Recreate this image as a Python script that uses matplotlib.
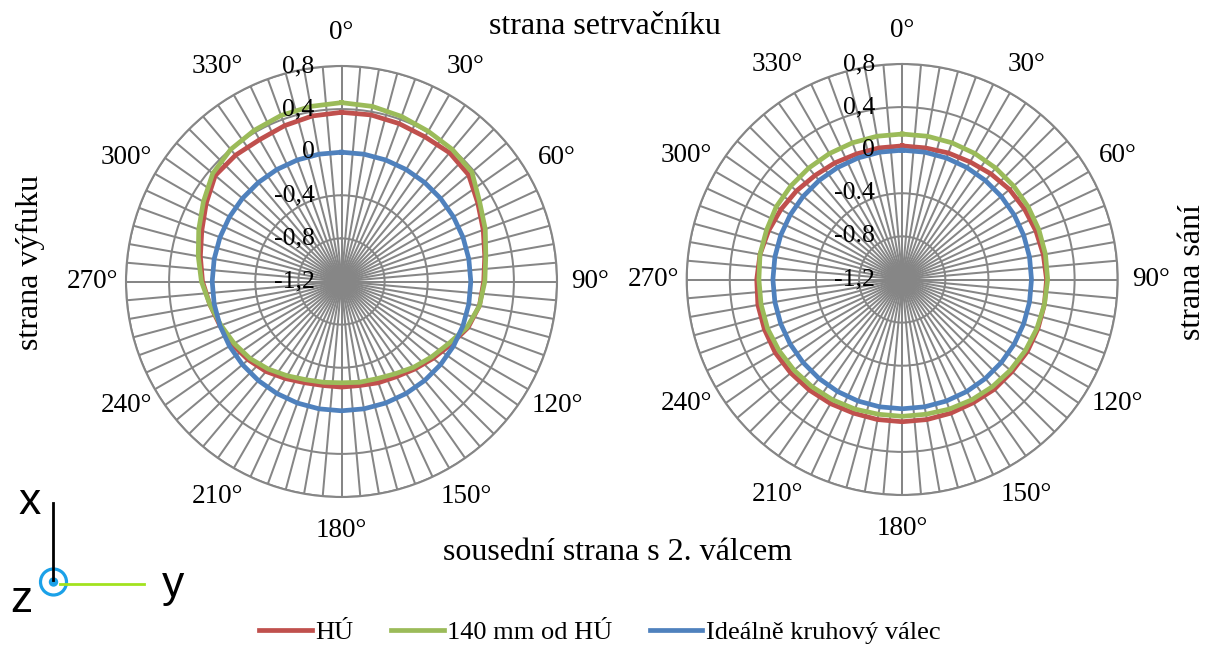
import numpy as np
import matplotlib
matplotlib.use("Agg")
import matplotlib.pyplot as plt
from matplotlib.transforms import offset_copy
from matplotlib.patches import Circle
from matplotlib.lines import Line2D

plt.rcParams['font.family'] = ['Liberation Serif', 'DejaVu Serif']

# ---------------- data ----------------
angles_deg = [0, 10, 20, 30, 40, 50, 60, 70, 80, 90, 100, 110,
              120, 130, 140, 150, 160, 170, 180, 190, 200, 210, 220, 230,
              240, 250, 260, 270, 280, 290, 300, 310, 320, 330, 340, 350]

series_names = ["HÚ", "140 mm od HÚ", "Ideálně kruhový válec"]
series_colors = ["#C0504D", "#9BBB59", "#4F81BD"]

left_hu = [0.37, 0.37, 0.36, 0.35, 0.36, 0.34, 0.26, 0.20, 0.15, 0.12, 0.10, 0.05,
           -0.03, -0.09, -0.14, -0.18, -0.20, -0.22, -0.22, -0.22, -0.20, -0.16, -0.11, -0.07,
           -0.03, 0.00, 0.04, 0.09, 0.13, 0.18, 0.25, 0.33, 0.33, 0.32, 0.34, 0.36]
left_140 = [0.46, 0.45, 0.43, 0.41, 0.40, 0.38, 0.28, 0.22, 0.16, 0.13, 0.10, 0.04,
            -0.05, -0.11, -0.16, -0.21, -0.24, -0.25, -0.26, -0.25, -0.23, -0.19, -0.14, -0.09,
            -0.05, -0.01, 0.04, 0.10, 0.15, 0.21, 0.28, 0.36, 0.40, 0.42, 0.44, 0.45]
left_ideal = [0.0, 0.0, 0.0, 0.0, 0.0, 0.0, 0.0, 0.0, 0.0, 0.0, 0.0, 0.0,
              0.0, 0.0, 0.0, 0.0, 0.0, 0.0, 0.0, 0.0, 0.0, 0.0, 0.0, 0.0,
              0.0, 0.0, 0.0, 0.0, 0.0, 0.0, 0.0, 0.0, 0.0, 0.0, 0.0, 0.0]

right_hu = [0.04, 0.04, 0.05, 0.06, 0.08, 0.10, 0.11, 0.12, 0.13, 0.14, 0.14, 0.14,
            0.14, 0.13, 0.13, 0.12, 0.12, 0.12, 0.12, 0.12, 0.12, 0.13, 0.14, 0.15,
            0.16, 0.16, 0.16, 0.15, 0.14, 0.12, 0.10, 0.08, 0.06, 0.05, 0.04, 0.04]
right_140 = [0.15, 0.15, 0.15, 0.15, 0.15, 0.15, 0.15, 0.15, 0.15, 0.15, 0.14, 0.13,
             0.12, 0.11, 0.10, 0.09, 0.08, 0.07, 0.07, 0.07, 0.08, 0.09, 0.10, 0.11,
             0.12, 0.13, 0.13, 0.13, 0.14, 0.14, 0.15, 0.15, 0.15, 0.15, 0.15, 0.15]
right_ideal = [0.0, 0.0, 0.0, 0.0, 0.0, 0.0, 0.0, 0.0, 0.0, 0.0, 0.0, 0.0,
               0.0, 0.0, 0.0, 0.0, 0.0, 0.0, 0.0, 0.0, 0.0, 0.0, 0.0, 0.0,
               0.0, 0.0, 0.0, 0.0, 0.0, 0.0, 0.0, 0.0, 0.0, 0.0, 0.0, 0.0]

r_ticks = [-1.2, -0.8, -0.4, 0.0, 0.4, 0.8]
left_r_labels = ["-1,2", "-0,8", "-0,4", "0", "0,4", "0,8"]
right_r_labels = ["-1,2", "-0.8", "-0.4", "0", "0,4", "0,8"]

theta_grid_step = 5
theta_label_text = {0: "0°", 30: "30°", 60: "60°", 90: "90°", 120: "120°", 150: "150°",
                    180: "180°", 210: "210°", 240: "240°", 270: "270°", 300: "300°", 330: "330°"}

# ---------------- figure ----------------
W, H = 1205, 645
fig = plt.figure(figsize=(W / 100, H / 100), dpi=100)
fig.patch.set_facecolor("white")

GRID = "#868686"
R_PX = 215.5


def polar_axes(cx, cy):
    rect = [(cx - R_PX) / W, (H - cy - R_PX) / H, 2 * R_PX / W, 2 * R_PX / H]
    return fig.add_axes(rect, projection="polar")


def draw(ax, series, rlabels):
    ax.set_theta_zero_location("N")
    ax.set_theta_direction(-1)
    ax.set_ylim(r_ticks[0], r_ticks[-1])
    ax.set_yticks(r_ticks)
    ax.set_yticklabels([])
    tdeg = np.arange(0, 360, theta_grid_step)
    ax.set_xticks(np.deg2rad(tdeg))
    ax.set_xticklabels([theta_label_text.get(int(d), "") for d in tdeg])
    ax.grid(True, color=GRID, lw=1.45)
    ax.spines["polar"].set_color(GRID)
    ax.spines["polar"].set_linewidth(1.5)
    ax.tick_params(axis="x", length=0, pad=17, labelsize=19.5)
    ax.tick_params(axis="y", length=0)
    th = np.deg2rad(angles_deg + [360])
    for vals, col in zip(series, series_colors):
        ax.plot(th, list(vals) + [vals[0]], color=col, lw=3.4,
                solid_joinstyle="round", zorder=3)
    tr = offset_copy(ax.transData, fig=fig, x=-27, y=0, units="dots")
    for r, lab in zip(r_ticks, rlabels):
        ax.text(0, r, lab, transform=tr, ha="right", va="center",
                fontsize=18.5, zorder=4)


axL = polar_axes(341.5, 281.5)
draw(axL, [left_hu, left_140, left_ideal], left_r_labels)
axR = polar_axes(902.2, 279.5)
draw(axR, [right_hu, right_140, right_ideal], right_r_labels)

# ---------------- titles ----------------
fig.text(605 / W, 1 - 27 / H, "strana setrvačníku", ha="center", va="center", fontsize=23)
fig.text(618 / W, 1 - 553 / H, "sousední strana s 2. válcem", ha="center", va="center", fontsize=23)
fig.text(30 / W, 1 - 262 / H, "strana výfuku", ha="center", va="center", rotation=90, fontsize=23)
fig.text(1192 / W, 1 - 272 / H, "strana sání", ha="center", va="center", rotation=90, fontsize=23)

# ---------------- legend ----------------
handles = [Line2D([], [], color=c, lw=3.4) for c in series_colors]
fig.legend(handles, series_names, loc="center", bbox_to_anchor=(600 / W, 1 - 632 / H),
           ncol=3, frameon=False, fontsize=19, handlelength=2.0, handletextpad=0.15,
           columnspacing=1.4)

# ---------------- coordinate icon ----------------
ov = fig.add_axes([0, 0, 1, 1], zorder=-1)
ov.set_xlim(0, W)
ov.set_ylim(H, 0)
ov.axis("off")
ov.plot([52.5, 52.5], [503, 580], color="black", lw=2.0)
ov.plot([60, 144], [584, 584], color="#A2E21E", lw=2.0)
ov.add_patch(Circle((53.5, 582), 13, fill=False, ec="#1BA1E8", lw=2.3))
ov.add_patch(Circle((53.5, 582), 4, color="#1BA1E8"))
ov.text(30, 503, "x", ha="center", va="center", fontsize=32, family="Liberation Sans")
ov.text(173, 585, "y", ha="center", va="center", fontsize=32, family="Liberation Sans")
ov.text(21, 601, "z", ha="center", va="center", fontsize=32, family="Liberation Sans")

fig.savefig("out.png", dpi=100, facecolor="white")
